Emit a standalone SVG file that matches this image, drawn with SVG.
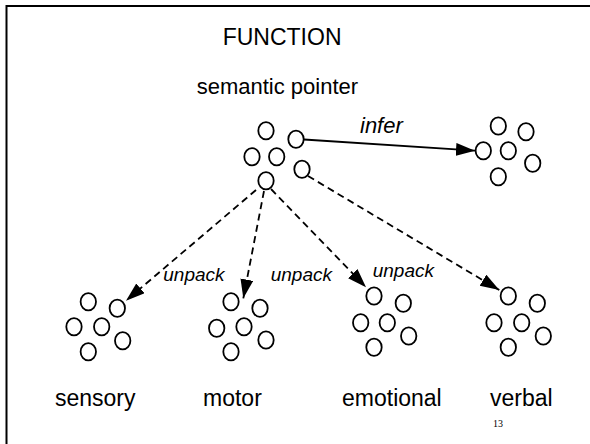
<svg xmlns="http://www.w3.org/2000/svg" width="590" height="444" viewBox="0 0 590 444">
<style>
  .n ellipse { fill: #fff; stroke: #000; stroke-width: 1.8; }
  .t { font-family: "Liberation Sans", Arial, sans-serif; fill: #000; }
  .lbl { font-family: "Liberation Sans", Arial, sans-serif; font-style: italic; fill: #000; }
  .solid { stroke: #000; stroke-width: 1.8; fill: none; }
  .dash { stroke: #000; stroke-width: 1.8; fill: none; stroke-dasharray: 7 4.5; }
</style>
<defs>
  <marker id="ah" markerUnits="userSpaceOnUse" markerWidth="20" markerHeight="14" refX="19" refY="6.5" orient="auto">
    <path d="M0,0 L19,6.5 L0,13 z" fill="#000"/>
  </marker>
</defs>
<rect width="590" height="444" fill="#fff"/>
<path d="M6.5,444 V6 H590" fill="none" stroke="#000" stroke-width="2"/>
<text class="t" x="222.7" y="45" font-size="23">FUNCTION</text>
<g id="semantic-pointer" class="n">
  <text class="t" x="196.7" y="94" font-size="22">semantic pointer</text>
  <ellipse cx="266" cy="130.7" rx="7.7" ry="8.6"/>
  <ellipse cx="296" cy="139.3" rx="7.7" ry="8.6"/>
  <ellipse cx="252" cy="156.7" rx="7.7" ry="8.6"/>
  <ellipse cx="276.7" cy="156.7" rx="7.7" ry="8.6"/>
  <ellipse cx="302" cy="169.3" rx="7.7" ry="8.6"/>
  <ellipse cx="266" cy="180.7" rx="7.7" ry="8.6"/>
</g>
<g id="inferred" class="n">
  <ellipse cx="498.3" cy="126" rx="7.7" ry="8.6"/>
  <ellipse cx="526" cy="131.7" rx="7.7" ry="8.6"/>
  <ellipse cx="483.3" cy="150.7" rx="7.7" ry="8.6"/>
  <ellipse cx="508.3" cy="150.7" rx="7.7" ry="8.6"/>
  <ellipse cx="532.7" cy="163.3" rx="7.7" ry="8.6"/>
  <ellipse cx="498.3" cy="176.7" rx="7.7" ry="8.6"/>
</g>
<g id="sensory" class="n">
  <ellipse cx="88.3" cy="301.7" rx="7.7" ry="8.6"/>
  <ellipse cx="117.3" cy="308.3" rx="7.7" ry="8.6"/>
  <ellipse cx="74" cy="326.7" rx="7.7" ry="8.6"/>
  <ellipse cx="101.7" cy="326.7" rx="7.7" ry="8.6"/>
  <ellipse cx="122.7" cy="340.7" rx="7.7" ry="8.6"/>
  <ellipse cx="88.3" cy="351.7" rx="7.7" ry="8.6"/>
  <text class="t" x="55" y="406" font-size="23">sensory</text>
</g>
<g id="motor" class="n">
  <ellipse cx="231" cy="301.7" rx="7.7" ry="8.6"/>
  <ellipse cx="260" cy="308.3" rx="7.7" ry="8.6"/>
  <ellipse cx="216.7" cy="328.3" rx="7.7" ry="8.6"/>
  <ellipse cx="244" cy="326.7" rx="7.7" ry="8.6"/>
  <ellipse cx="266" cy="340" rx="7.7" ry="8.6"/>
  <ellipse cx="231" cy="351.7" rx="7.7" ry="8.6"/>
  <text class="t" x="203" y="406" font-size="23">motor</text>
</g>
<g id="emotional" class="n">
  <ellipse cx="374" cy="296" rx="7.7" ry="8.6"/>
  <ellipse cx="403.3" cy="303.3" rx="7.7" ry="8.6"/>
  <ellipse cx="360.7" cy="322.7" rx="7.7" ry="8.6"/>
  <ellipse cx="387.3" cy="322.7" rx="7.7" ry="8.6"/>
  <ellipse cx="408.7" cy="336" rx="7.7" ry="8.6"/>
  <ellipse cx="374" cy="347.3" rx="7.7" ry="8.6"/>
  <text class="t" x="342" y="406" font-size="23">emotional</text>
</g>
<g id="verbal" class="n">
  <ellipse cx="508.3" cy="296" rx="7.7" ry="8.6"/>
  <ellipse cx="537.3" cy="303.3" rx="7.7" ry="8.6"/>
  <ellipse cx="494" cy="322.7" rx="7.7" ry="8.6"/>
  <ellipse cx="521.7" cy="322.7" rx="7.7" ry="8.6"/>
  <ellipse cx="543.3" cy="336" rx="7.7" ry="8.6"/>
  <ellipse cx="508.3" cy="347.3" rx="7.7" ry="8.6"/>
  <text class="t" x="490" y="406" font-size="23">verbal</text>
</g>
<g id="connectors">
  <line class="solid" x1="304" y1="139.5" x2="475" y2="150.7" marker-end="url(#ah)"/>
  <text class="lbl" x="360" y="132.7" font-size="22">infer</text>
  <line class="dash" x1="256" y1="190" x2="126" y2="300.7" marker-end="url(#ah)"/>
  <line class="dash" x1="264" y1="191" x2="243.3" y2="298.3" marker-end="url(#ah)"/>
  <line class="dash" x1="271" y1="189" x2="366" y2="287.3" marker-end="url(#ah)"/>
  <line class="dash" x1="308" y1="176" x2="499.3" y2="290" marker-end="url(#ah)"/>
  <text class="lbl" x="163.3" y="281" font-size="19">unpack</text>
  <text class="lbl" x="270.7" y="281" font-size="19">unpack</text>
  <text class="lbl" x="372.7" y="276.7" font-size="19">unpack</text>
</g>
<text x="493" y="427" font-family="'Liberation Serif', 'Times New Roman', serif" font-size="10" fill="#000">13</text>
</svg>
